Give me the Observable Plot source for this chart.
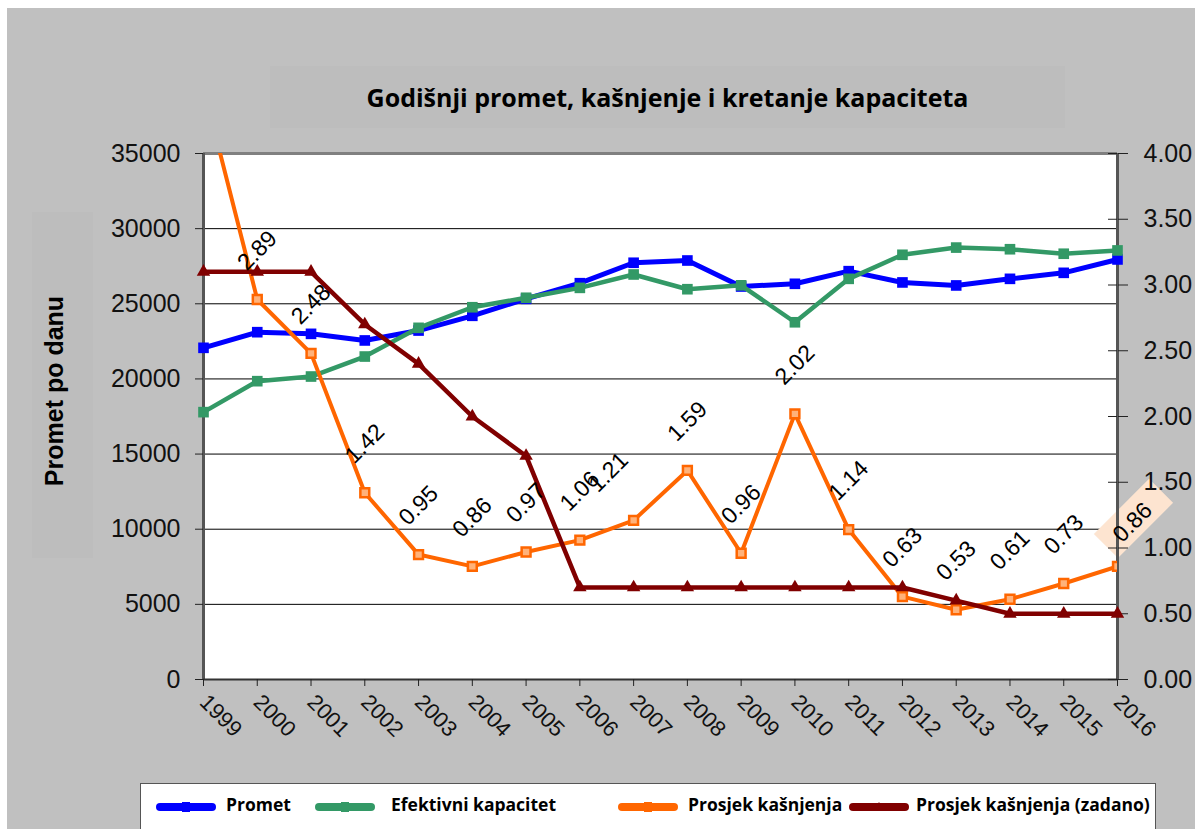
<!DOCTYPE html>
<html>
<head>
<meta charset="utf-8">
<script src="https://cdn.jsdelivr.net/npm/d3@7"></script>
<script src="https://cdn.jsdelivr.net/npm/@observablehq/plot@0.6"></script>
<style>
  html, body { margin: 0; padding: 0; background: #ffffff; overflow: hidden; }
  #page { position: absolute; left: 0; top: 0; width: 1195px; height: 829px; overflow: hidden; background: #ffffff; }
  #bg { position: absolute; left: 7px; top: 8px; width: 1188px; height: 821px; background: #c0c0c0; }
  #titlebox { position: absolute; left: 270px; top: 66px; width: 795px; height: 62px; background: #bdbdbd; }
  #title { position: absolute; left: 0; top: 0; width: 795px; height: 62px; line-height: 62px; text-align: center;
           font-family: "Open Sans", sans-serif; font-weight: 700; font-size: 25px; color: #000; }
  #ylabbox { position: absolute; left: 32px; top: 212px; width: 61px; height: 346px; background: #bdbdbd; }
  #ylab { position: absolute; left: 54px; top: 391px; transform: translate(-50%, -50%) rotate(-90deg); white-space: nowrap;
          font-family: "Liberation Sans", Arial, sans-serif; font-weight: 700; font-size: 25px; color: #000; }
  #chart { position: absolute; left: 0; top: 133px; }
  #legend { position: absolute; left: 140px; top: 783px; width: 1016px; height: 70px; background: #fff; border: 1.5px solid #555; box-sizing: border-box; }
  .lt { font-family: "Open Sans", sans-serif; font-weight: 700; font-size: 17.5px; color: #000; white-space: nowrap; }
</style>
</head>
<body>
<div id="page">
  <div id="bg"></div>
  <div id="titlebox"><div id="title">Godišnji promet, kašnjenje i kretanje kapaciteta</div></div>
  <div id="ylabbox"></div>
  <div id="ylab">Promet po danu</div>
  <div id="chart"></div>
  <div id="legend"></div>
</div>
<script>
// ---- data ----
const years = [1999, 2000, 2001, 2002, 2003, 2004, 2005, 2006, 2007, 2008, 2009, 2010, 2011, 2012, 2013, 2014, 2015, 2016];
const promet = [22070, 23110, 23000, 22560, 23220, 24200, 25330, 26370, 27730, 27880, 26150, 26330, 27170, 26420, 26220, 26660, 27060, 27950];
const kapacitet = [17790, 19850, 20160, 21490, 23400, 24770, 25400, 26060, 26950, 25970, 26230, 23770, 26660, 28260, 28740, 28630, 28330, 28550];
const kasnjenje = [4.5, 2.89, 2.48, 1.42, 0.95, 0.86, 0.97, 1.06, 1.21, 1.59, 0.96, 2.02, 1.14, 0.63, 0.53, 0.61, 0.73, 0.86];
const zadano = [3.1, 3.1, 3.1, 2.7, 2.4, 2.0, 1.7, 0.7, 0.7, 0.7, 0.7, 0.7, 0.7, 0.7, 0.6, 0.5, 0.5, 0.5];
const leftTicks = [0, 5000, 10000, 15000, 20000, 25000, 30000, 35000];
const rightTicks = [0, 0.5, 1.0, 1.5, 2.0, 2.5, 3.0, 3.5, 4.0];
const seriesNames = ["Promet", "Efektivni kapacitet", "Prosjek kašnjenja", "Prosjek kašnjenja (zadano)"];
const colors = ["#0000ff", "#339966", "#ff6600", "#800000"];

// secondary axis maps 0..4 onto primary 0..35000
const leftMax = leftTicks[leftTicks.length - 1];
const rightMax = rightTicks[rightTicks.length - 1];
const k = leftMax / rightMax;

const rows = years.map((year, i) => ({
  year, promet: promet[i], kapacitet: kapacitet[i],
  kas: kasnjenje[i], kasY: kasnjenje[i] * k,
  zad: zadano[i], zadY: zadano[i] * k
}));
const labelRows = rows.filter(d => d.kas <= rightMax);
const lastRow = labelRows[labelRows.length - 1];
const shiftedRow = rows.find(d => d.year === 2007);
const normalLabels = labelRows.filter(d => d !== lastRow && d !== shiftedRow);

const gridTicks = leftTicks.filter(t => t > 0 && t < leftMax);

// rotated rectangle symbol for the highlighted label background
const boxSymbol = {
  draw(ctx) {
    const w = 39, h = 17, a = -Math.PI / 4, c = Math.cos(a), s = Math.sin(a);
    const pts = [[-w, -h], [w, -h], [w, h], [-w, h]].map(([x, y]) => [x * c - y * s, x * s + y * c]);
    ctx.moveTo(pts[0][0], pts[0][1]);
    for (let j = 1; j < pts.length; j++) ctx.lineTo(pts[j][0], pts[j][1]);
    ctx.closePath();
  }
};

const chart = Plot.plot({
  width: 1195,
  height: 640,
  marginLeft: 203,
  marginRight: 78,
  marginTop: 20,
  marginBottom: 94,
  style: { background: "transparent", fontFamily: "'Liberation Sans', Arial, sans-serif", color: "#111", overflow: "visible" },
  x: { domain: [years[0], years[years.length - 1]] },
  y: { domain: [0, leftMax] },
  marks: [
    Plot.frame({ fill: "white", stroke: "none" }),
    Plot.ruleY(gridTicks, { stroke: "#000", strokeWidth: 1 }),
    // highlighted label background (behind axes)
    Plot.dot([lastRow], { x: "year", y: "kasY", symbol: boxSymbol, fill: "#fde4d0", dx: 16, dy: -48, r: 5 }),
    Plot.ruleY([leftMax], { stroke: "#808080", strokeWidth: 3 }),
    Plot.ruleX([years[0]], { stroke: "#555", strokeWidth: 3 }),
    Plot.ruleX([years[years.length - 1]], { stroke: "#555", strokeWidth: 3 }),
    Plot.ruleY([0], { stroke: "#333", strokeWidth: 2 }),
    // left axis
    Plot.axisY({ ticks: leftTicks, tickFormat: d3.format("d"), tickSize: 8, tickPadding: 15, fontSize: 25, label: null, stroke: "#222" }),
    // right axis (secondary)
    Plot.axisY({ anchor: "right", ticks: rightTicks.map(v => v * k), tickFormat: d => (d / k).toFixed(2), tickSize: 10, tickPadding: 16, fontSize: 25, label: null, stroke: "#222" }),
    Plot.ruleY(rightTicks.map(v => v * k), { x1: years[years.length - 1], x2: years[years.length - 1], insetLeft: -9, stroke: "#222" }),
    // x axis
    Plot.axisX({ ticks: years, tickFormat: d => String(d), tickSize: 7, tickPadding: 12, tickRotate: 45, fontSize: 22, label: null, stroke: "#222" }),
    // Promet
    Plot.line(rows, { x: "year", y: "promet", stroke: colors[0], strokeWidth: 5 }),
    Plot.dot(rows, { x: "year", y: "promet", symbol: "square", fill: colors[0], r: 6 }),
    // Efektivni kapacitet
    Plot.line(rows, { x: "year", y: "kapacitet", stroke: colors[1], strokeWidth: 4.5 }),
    Plot.dot(rows, { x: "year", y: "kapacitet", symbol: "square", fill: colors[1], r: 6 }),
    // Prosjek kašnjenja
    Plot.line(rows, { x: "year", y: "kasY", stroke: colors[2], strokeWidth: 4, clip: true }),
    Plot.dot(rows, { x: "year", y: "kasY", symbol: "square", fill: "#ffb27a", stroke: colors[2], strokeWidth: 2.5, r: 5, clip: true }),
    // Prosjek kašnjenja (zadano)
    Plot.line(rows, { x: "year", y: "zadY", stroke: colors[3], strokeWidth: 4.5 }),
    Plot.dot(rows, { x: "year", y: "zadY", symbol: "triangle", fill: colors[3], r: 5 }),
    // data labels
    Plot.text(normalLabels, { x: "year", y: "kasY", text: d => d.kas.toFixed(2), rotate: -45, dy: -49, fontSize: 23, fill: "#000" }),
    Plot.text([shiftedRow], { x: "year", y: "kasY", text: d => d.kas.toFixed(2), rotate: -45, dx: -25, dy: -48, fontSize: 23, fill: "#000" }),
    Plot.text([lastRow], { x: "year", y: "kasY", text: d => d.kas.toFixed(2), rotate: -45, dx: 15, dy: -44, fontSize: 23, fill: "#000" })
  ]
});
document.getElementById("chart").appendChild(chart);

// legend
const legendPos = [[14, 85], [173, 250], [476, 547], [707, 775]];
const symbols = ["sq", "sq", "sq", "tri"];
const legend = document.getElementById("legend");
seriesNames.forEach((name, i) => {
  const sw = document.createElementNS("http://www.w3.org/2000/svg", "svg");
  sw.setAttribute("width", 62); sw.setAttribute("height", 16);
  sw.style.position = "absolute"; sw.style.left = legendPos[i][0] + "px"; sw.style.top = "15px";
  const col = colors[i];
  const mk = symbols[i] === "tri"
    ? `<path d="M31,3 L36,11 L26,11 Z" fill="${col}"/>`
    : `<rect x="27" y="3" width="8" height="10" fill="${col}"/>`;
  sw.innerHTML = `<line x1="5" y1="8" x2="57" y2="8" stroke="${col}" stroke-width="8" stroke-linecap="round"/>` + mk;
  legend.appendChild(sw);
  const t = document.createElement("div");
  t.className = "lt"; t.textContent = name;
  t.style.position = "absolute";
  t.style.left = legendPos[i][1] + "px";
  t.style.top = "8px";
  legend.appendChild(t);
});
</script>
</body>
</html>
